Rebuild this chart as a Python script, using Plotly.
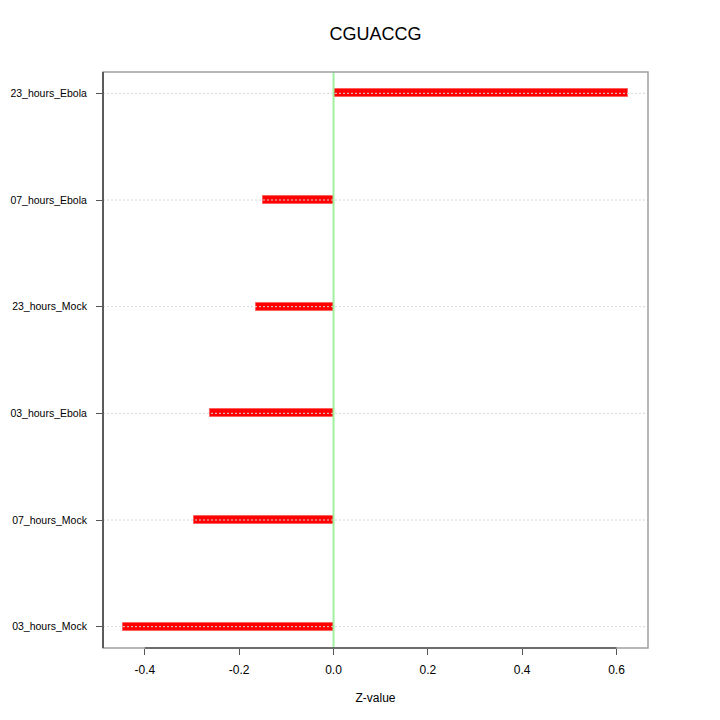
import plotly.graph_objects as go

categories = ["03_hours_Mock", "07_hours_Mock", "03_hours_Ebola",
              "23_hours_Mock", "07_hours_Ebola", "23_hours_Ebola"]
zvalues = [-0.446, -0.296, -0.262, -0.165, -0.149, 0.624]
xticks = [-0.4, -0.2, 0.0, 0.2, 0.4, 0.6]
xticklabels = ["-0.4", "-0.2", "0.0", "0.2", "0.4", "0.6"]
title_text = "CGUACCG"
xlabel = "Z-value"

positions = list(range(len(categories)))
span = max(zvalues) - min(zvalues)
xr = [min(zvalues) - 0.04 * span, max(zvalues) + 0.04 * span]
yr = [-0.2, len(categories) - 1 + 0.2]

FONT = "Liberation Sans, Arial, Helvetica, sans-serif"

fig = go.Figure()
fig.add_trace(go.Bar(
    x=zvalues, y=positions, orientation="h", base=0, width=0.075,
    marker=dict(color="#FF0000", line=dict(color="#FF6060", width=1)),
    showlegend=False, hoverinfo="x+text", text=categories, textposition="none",
))

shapes = []
# dotted grid lines on top of bars
for p in positions:
    shapes.append(dict(type="line", xref="paper", x0=0, x1=1, yref="y", y0=p, y1=p,
                       line=dict(color="#D6D6D6", width=1, dash="2px,2px"), layer="above"))
# zero line
shapes.append(dict(type="line", xref="x", x0=0, x1=0, yref="paper", y0=0, y1=1,
                   line=dict(color="#A0F0A0", width=2), layer="above"))
# frame
shapes.append(dict(type="rect", xref="paper", yref="paper", x0=0, x1=1, y0=0, y1=1,
                   line=dict(color="#A0A0A0", width=1.5), layer="above"))
# left axis line
shapes.append(dict(type="line", xref="paper", x0=0, x1=0, yref="paper", y0=0, y1=1,
                   line=dict(color="#000000", width=1), layer="above"))
# bottom axis line between first and last tick
shapes.append(dict(type="line", xref="x", x0=xticks[0], x1=xticks[-1], yref="paper", y0=0, y1=0,
                   line=dict(color="#555555", width=1.5), layer="above"))

fig.update_layout(
    width=720, height=720,
    margin=dict(l=103, r=72, t=72, b=72),
    paper_bgcolor="white", plot_bgcolor="white",
    font=dict(family=FONT, color="#000000"),
    title=dict(text=title_text, x=(103 + 648) / 2 / 720, xanchor="center",
               y=1 - 34 / 720, yanchor="middle", font=dict(size=18, family=FONT)),
    shapes=shapes,
    xaxis=dict(range=xr, tickvals=xticks, ticktext=xticklabels, showgrid=False,
               zeroline=False, showline=False, ticks="outside", ticklen=6,
               tickcolor="#555555", tickfont=dict(size=12), ticklabelstandoff=5,
               automargin=False,
               title=dict(text=xlabel, font=dict(size=12), standoff=17)),
    yaxis=dict(range=yr, tickvals=positions, ticktext=categories, showgrid=False,
               zeroline=False, showline=False, ticks="outside", ticklen=6,
               tickcolor="#555555", tickfont=dict(size=10.5), ticklabelstandoff=7,
               automargin=False),
    bargap=0,
)

fig.write_html("out.html", config={"displayModeBar": False},
               post_script="document.body.style.margin='0';document.body.style.padding='0';")
